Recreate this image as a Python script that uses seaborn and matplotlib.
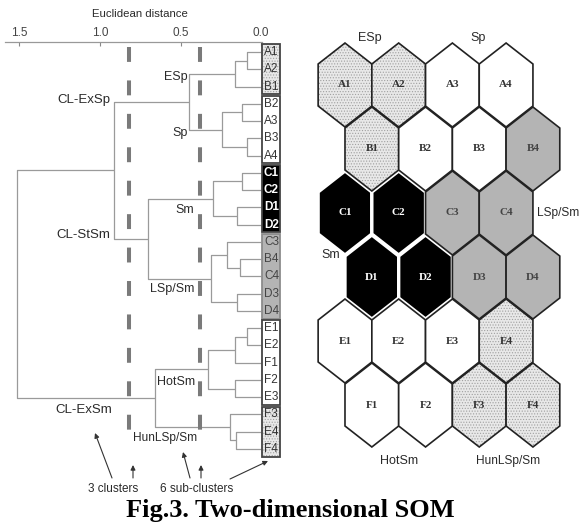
import matplotlib
matplotlib.use("Agg")
import matplotlib.pyplot as plt
import seaborn as sns
from matplotlib.patches import Polygon, Rectangle

# sub-clusters and their leaves, in dendrogram order (top to bottom)
sub_names = ["ESp", "Sp", "Sm", "LSp/Sm", "HotSm", "HunLSp/Sm"]
sub_leaves = [["A1", "A2", "B1"], ["B2", "A3", "B3", "A4"], ["C1", "C2", "D1", "D2"],
              ["C3", "B4", "C4", "D3", "D4"], ["E1", "E2", "F1", "F2", "E3"], ["F3", "E4", "F4"]]
leaf_order = [l for g in sub_leaves for l in g]

# merges: (left, right, euclidean distance); ints refer to earlier merges
merges = [
    ("A1", "A2", 0.09), (0, "B1", 0.16), ("B2", "A3", 0.12), ("B3", "A4", 0.09),
    (2, 3, 0.24), (1, 4, 0.45),
    ("C1", "C2", 0.12), ("D1", "D2", 0.15), (6, 7, 0.30),
    ("B4", "C4", 0.13), ("C3", 9, 0.21), ("D3", "D4", 0.15), (10, 11, 0.31),
    (8, 12, 0.70), (5, 13, 0.91),
    ("E1", "E2", 0.09), (15, "F1", 0.16), ("F2", "E3", 0.16), (16, 17, 0.33),
    ("E4", "F4", 0.155), ("F3", 19, 0.19), (18, 20, 0.66),
    (14, 21, 1.515),
]
cut_levels = [0.82, 0.38]
dist_ticks = [1.5, 1.0, 0.5, 0.0]
dist_ticklabels = ["1.5", "1.0", "0.5", "0.0"]

# SOM map
som_rows = ["A", "B", "C", "D", "E", "F"]
som_cols = [1, 2, 3, 4]

sns.set_theme(style="white")
narrow = ["Liberation Sans Narrow", "Arial Narrow", "Liberation Sans", "DejaVu Sans"]
serif = ["Liberation Serif", "DejaVu Serif"]
plt.rcParams["font.family"] = narrow
plt.rcParams["hatch.linewidth"] = 0.5

W, H = 581, 524
fig = plt.figure(figsize=(W / 100, H / 100), dpi=100)

styles = {
    "ESp": dict(fc="#e8e8e8", hatch="......", tc="#333333"),
    "Sp": dict(fc="white", hatch=None, tc="#333333"),
    "Sm": dict(fc="black", hatch=None, tc="white"),
    "LSp/Sm": dict(fc="#b4b4b4", hatch=None, tc="#444444"),
    "HotSm": dict(fc="white", hatch=None, tc="#333333"),
    "HunLSp/Sm": dict(fc="#e8e8e8", hatch="......", tc="#333333"),
}
leaf_cluster = {l: n for n, g in zip(sub_names, sub_leaves) for l in g}

# ---------------- dendrogram ----------------
ax = fig.add_axes([5 / W, 1 - 500 / H, 280 / W, 458 / H])
ax.set_xlim(1.590, -0.149)
ax.set_ylim(25.956, -0.579)

node_pos = []
def pos(n):
    if isinstance(n, str):
        return 0.0, leaf_order.index(n)
    return node_pos[n]

lc = "#9a9a9a"
for left, right, h in merges:
    xl, yl = pos(left)
    xr, yr = pos(right)
    ax.plot([xl, h, h, xr], [yl, yl, yr, yr], color=lc, lw=0.9, solid_capstyle="butt")
    node_pos.append((h, (yl + yr) / 2))

for c in cut_levels:
    ax.vlines(c, -0.3, 22.4, color="#7a7a7a", lw=2.9, linestyles=[(0, (3.7, 4.6))])

# leaf boxes
bx0, bx1 = -0.006, -0.118
i0 = 0
for name, g in zip(sub_names, sub_leaves):
    st = styles[name]
    ec = "#444444" if name != "LSp/Sm" else "#8c8c8c"
    ax.add_patch(Rectangle((bx1, i0 - 0.45), bx0 - bx1, len(g) - 0.1, facecolor=st["fc"],
                           edgecolor="#a0a0a0" if st["hatch"] else st["fc"], lw=0,
                           hatch=st["hatch"], zorder=3))
    ax.add_patch(Rectangle((bx1, i0 - 0.45), bx0 - bx1, len(g) - 0.1, facecolor="none",
                           edgecolor=ec, lw=1.3, zorder=4))
    for k, l in enumerate(g):
        ax.text(bx0 - 0.012, i0 + k, l, ha="left", va="center", fontsize=8.5,
                color=st["tc"], fontweight="bold" if name == "Sm" else "normal", zorder=5)
    i0 += len(g)

ax.xaxis.tick_top()
ax.set_xticks(dist_ticks)
ax.set_xticklabels(dist_ticklabels, fontsize=8.5, color="#444444")
ax.tick_params(axis="x", direction="in", length=3, width=0.8, color="#888888", pad=2)
ax.set_yticks([])
for s in ["bottom", "left", "right"]:
    ax.spines[s].set_visible(False)
ax.spines["top"].set_color("#999999")
ax.spines["top"].set_linewidth(0.9)
ax.spines["top"].set_bounds(-0.006, 1.590)
ax.patch.set_alpha(0)

# ---------------- SOM ----------------
sx = fig.add_axes([290 / W, 1 - 490 / H, 291 / W, 490 / H])
sx.set_xlim(-1.024, 4.395)
sx.set_ylim(6.328, -1.328)
sx.axis("off")
hexv = [(0, -0.656), (0.5, -0.328), (0.5, 0.328), (0, 0.656), (-0.5, 0.328), (-0.5, -0.328)]

cells = []
for r, row in enumerate(som_rows):
    for c, col in enumerate(som_cols):
        cells.append((row + str(col), c + 0.5 * (r % 2), r))

# black cells first (white borders), then the others on top
for name, u, v in sorted(cells, key=lambda t: leaf_cluster[t[0]] != "Sm"):
    cl = leaf_cluster[name]
    st = styles[cl]
    verts = [(u + dx, v + dy) for dx, dy in hexv]
    if cl == "Sm":
        sx.add_patch(Polygon(verts, closed=True, facecolor="black", edgecolor="white", lw=2.4))
    else:
        sx.add_patch(Polygon(verts, closed=True, facecolor=st["fc"],
                             edgecolor="#a0a0a0" if st["hatch"] else st["fc"], lw=0, hatch=st["hatch"]))
        sx.add_patch(Polygon(verts, closed=True, facecolor="none", edgecolor="#222222", lw=1.2))
    sx.text(u, v, name, ha="center", va="center", fontsize=8, fontweight="bold",
            family=serif, color=st["tc"], zorder=5)

# ---------------- texts and arrows (figure pixels) ----------------
ov = fig.add_axes([0, 0, 1, 1])
ov.set_xlim(0, W)
ov.set_ylim(H, 0)
ov.axis("off")
ov.patch.set_alpha(0)

tc = "#2a2a2a"
ov.text(140, 14, "Euclidean distance", ha="center", va="center", fontsize=8.2, color=tc)
dl = [("ESp", 188, 77, 9), ("Sp", 188, 133, 9), ("CL-ExSp", 110, 100, 9.5),
      ("Sm", 194, 210, 9), ("CL-StSm", 110, 235, 9.5), ("LSp/Sm", 194, 289, 9),
      ("HotSm", 195, 382, 9), ("CL-ExSm", 112, 410, 9.5), ("HunLSp/Sm", 197, 438, 8.6)]
for t, x, y, fs in dl:
    ov.text(x, y, t, ha="right", va="center", fontsize=fs, color=tc)

ov.text(113, 489, "3 clusters", ha="center", va="center", fontsize=8.5, color=tc)
ov.text(197, 489, "6 sub-clusters", ha="center", va="center", fontsize=8.5, color=tc)
ap = dict(arrowstyle="-|>", color="#333333", lw=0.8, mutation_scale=7, shrinkA=0, shrinkB=0)
for (x0, y0), (x1, y1) in [((112, 478), (95, 433)), ((133, 478), (133, 465)),
                           ((190, 478), (183, 452)), ((201, 478), (201, 465)),
                           ((230, 479), (268, 461))]:
    ov.annotate("", xy=(x1, y1), xytext=(x0, y0), arrowprops=ap)

sl = [("ESp", 370, 38, "center", 9), ("Sp", 478, 38, "center", 9),
      ("LSp/Sm", 537, 213, "left", 8.6), ("Sm", 340, 255, "right", 9),
      ("HotSm", 399, 461, "center", 9), ("HunLSp/Sm", 508, 461, "center", 8.6)]
for t, x, y, ha, fs in sl:
    ov.text(x, y, t, ha=ha, va="center", fontsize=fs, color=tc)

ov.text(290, 510, "Fig.3. Two-dimensional SOM", ha="center", va="center", fontsize=19,
        fontweight="bold", family=serif, color="black")

fig.savefig("out.png", dpi=100)
